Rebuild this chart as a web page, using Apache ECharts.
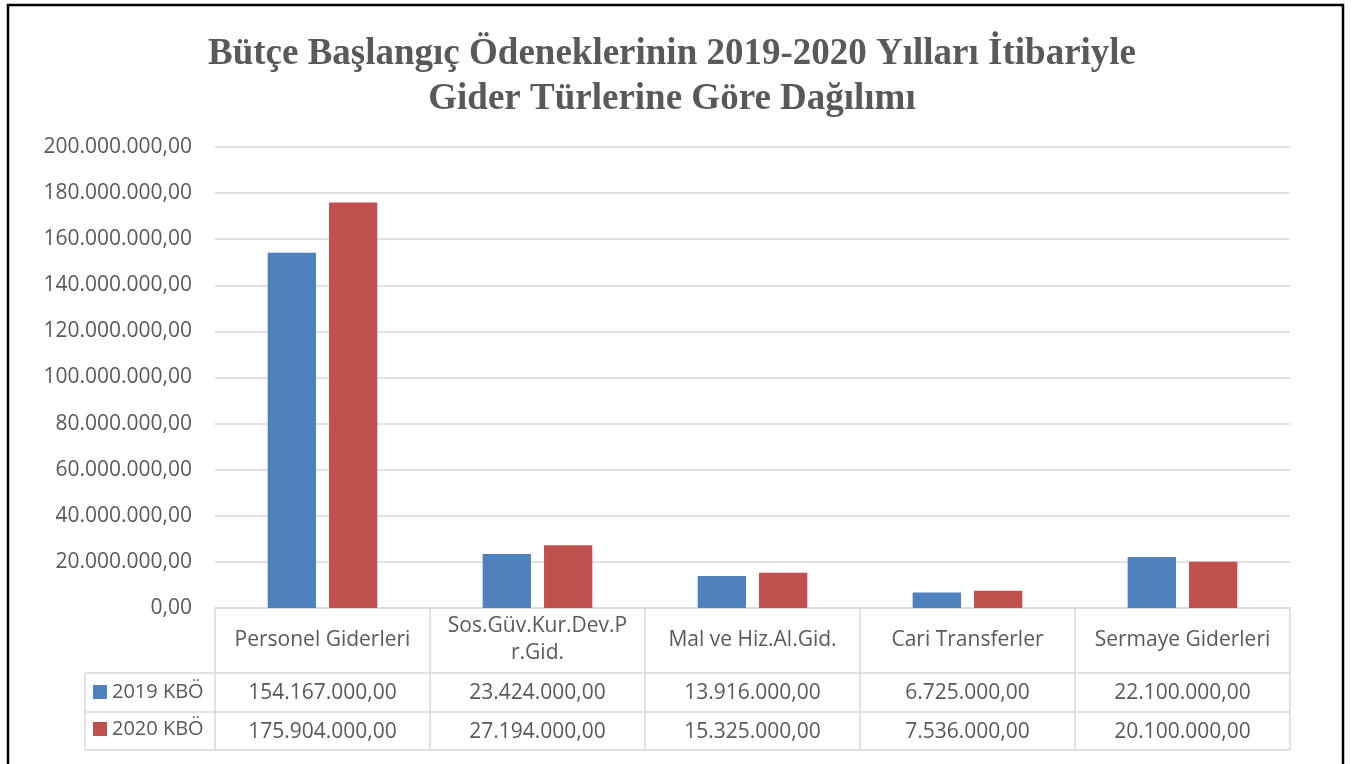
<!DOCTYPE html>
<html lang="tr">
  <head>
    <meta charset="UTF-8" />
    <title>Bütçe Başlangıç Ödenekleri</title>
    <style>
      html, body { margin: 0; padding: 0; background: #fff; }
      #main { width: 1362px; height: 764px; }
    </style>
  </head>
  <body>
    <div id="main"></div>
    <script src="https://cdn.jsdelivr.net/npm/echarts@6/dist/echarts.min.js"></script>
    <script>
      // veriler
      const categories = ["Personel Giderleri", "Sos.Güv.Kur.Dev.Pr.Gid.", "Mal ve Hiz.Al.Gid.", "Cari Transferler", "Sermaye Giderleri"];
      const seriesNames = ["2019 KBÖ", "2020 KBÖ"];
      const values2019 = [154167000, 23424000, 13916000, 6725000, 22100000];
      const values2020 = [175904000, 27194000, 15325000, 7536000, 20100000];

      const textColor = "#595959";
      const lineColor = "#d9d9d9";
      const font = "'Open Sans', 'Noto Sans', sans-serif";
      const fontSize = 21;

      // grid sınırları (px)
      const gLeft = 215, gRight = 1290, gTop = 147, gBottom = 608;
      const rowLines = [673, 712, 750];
      const tableLeft = 85;
      const colW = (gRight - gLeft) / categories.length;

      // 1.234.567,00 biçimi
      function fmt(n) {
        const s = Math.round(n).toString().replace(/\B(?=(\d{3})+(?!\d))/g, ".");
        return s + ",00";
      }

      const myChart = echarts.init(document.getElementById("main"));

      // çerçeve, tablo çizgileri ve değerleri
      const graphics = [];
      graphics.push({
        type: "rect",
        shape: { x: 8, y: 5, width: 1335, height: 790 },
        style: { fill: "none", stroke: "#000", lineWidth: 2.5 },
        silent: true,
      });
      rowLines.forEach(function (y) {
        graphics.push({
          type: "line",
          shape: { x1: tableLeft, y1: y, x2: gRight, y2: y },
          style: { stroke: lineColor, lineWidth: 1.5 },
        });
      });
      for (let i = 0; i <= categories.length; i++) {
        const x = gLeft + i * colW;
        graphics.push({
          type: "line",
          shape: { x1: x, y1: gBottom, x2: x, y2: rowLines[2] },
          style: { stroke: lineColor, lineWidth: 1.5 },
        });
      }
      graphics.push({
        type: "line",
        shape: { x1: tableLeft, y1: rowLines[0], x2: tableLeft, y2: rowLines[2] },
        style: { stroke: lineColor, lineWidth: 1.5 },
      });
      [values2019, values2020].forEach(function (arr, r) {
        const yMid = (rowLines[r] + rowLines[r + 1]) / 2;
        arr.forEach(function (v, i) {
          graphics.push({
            type: "text",
            x: gLeft + (i + 0.5) * colW,
            y: yMid + 1,
            style: {
              text: fmt(v),
              fill: textColor,
              font: fontSize + "px " + font,
              align: "center",
              verticalAlign: "middle",
            },
          });
        });
      });

      const option = {
        animation: false,
        color: ["#4f81bd", "#c0504d"],
        title: {
          text: "Bütçe Başlangıç Ödeneklerinin 2019-2020 Yılları İtibariyle\nGider Türlerine Göre Dağılımı",
          left: 667,
          top: 27,
          textAlign: "center",
          textStyle: {
            fontFamily: "'Liberation Serif', serif",
            fontWeight: "bold",
            fontSize: 37,
            lineHeight: 45,
            color: textColor,
          },
        },
        legend: {
          orient: "vertical",
          left: 88,
          top: 677,
          itemWidth: 14,
          itemHeight: 14,
          itemGap: 17,
          icon: "rect",
          data: seriesNames,
          textStyle: { fontFamily: font, fontSize: 20, color: textColor },
        },
        grid: { left: gLeft, right: 1362 - gRight, top: gTop, bottom: 764 - gBottom },
        xAxis: {
          type: "category",
          data: categories,
          axisLine: { lineStyle: { color: lineColor, width: 1.5 } },
          axisTick: { show: false },
          axisLabel: {
            margin: 32,
            verticalAlign: "middle",
            fontFamily: font,
            fontSize: fontSize,
            lineHeight: 27,
            color: textColor,
            interval: 0,
            formatter: function (v) {
              return v.length > 18 ? v.slice(0, 17) + "\n" + v.slice(17) : v;
            },
          },
        },
        yAxis: {
          type: "value",
          min: 0,
          max: 200000000,
          interval: 20000000,
          axisLine: { show: false },
          axisTick: { show: false },
          splitLine: { lineStyle: { color: lineColor, width: 1.5 } },
          axisLabel: {
            margin: 23,
            fontFamily: font,
            fontSize: fontSize,
            color: textColor,
            formatter: fmt,
          },
        },
        series: [
          {
            name: seriesNames[0],
            type: "bar",
            data: values2019,
            barGap: "27%",
            barCategoryGap: "49%",
          },
          {
            name: seriesNames[1],
            type: "bar",
            data: values2020,
          },
        ],
        graphic: graphics,
      };

      myChart.setOption(option);
    </script>
  </body>
</html>
